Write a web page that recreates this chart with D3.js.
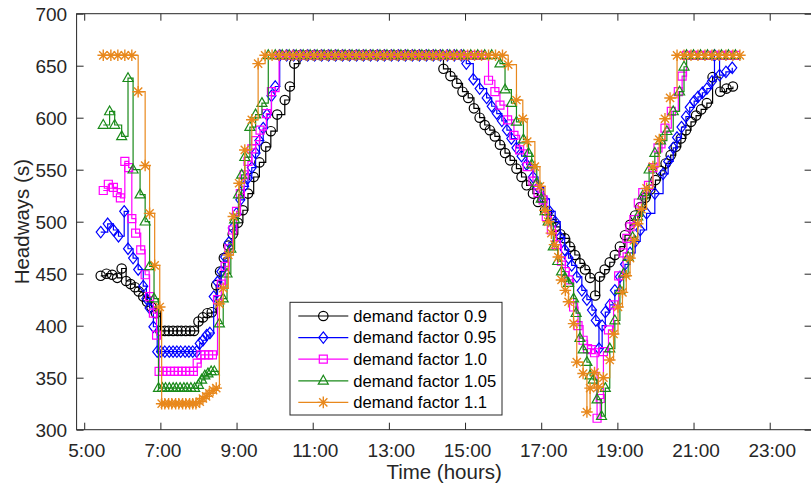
<!DOCTYPE html>
<html><head><meta charset="utf-8">
<script src="https://cdn.jsdelivr.net/npm/d3@7"></script>
<style>
body{margin:0;background:#fff}
svg{display:block}
text{font-family:"Liberation Sans",Arial,Helvetica,sans-serif;fill:#262626}
</style>
</head><body>
<svg id="chart" width="811" height="492"></svg>
<script>
// ---------------- DATA (time in minutes since midnight, headway in seconds) ----------------
const xTickValues = [300, 420, 540, 660, 780, 900, 1020, 1140, 1260, 1380];
const xTickLabels = ["5:00","7:00","9:00","11:00","13:00","15:00","17:00","19:00","21:00","23:00"];
const yTickValues = [300, 350, 400, 450, 500, 550, 600, 650, 700];
const seriesNames = ["demand factor 0.9","demand factor 0.95","demand factor 1.0","demand factor 1.05","demand factor 1.1"];

const df09 = [
[326,448],[335,450],[344,449],[352,446],[359,455],[366,443],[373,440],[380,437],[386,433],[393,428],[399,423],[406,418],[413,412],
[420,395],[427,395],[433,395],[440,395],[447,395],[453,395],[460,395],[467,395],[473,395],
[480,404],[487,408],[494,412],[501,413],[508,439],[514,452],[520,465],[527,477],[534,488],[542,499],[550,511],[558,527],[567,543],[576,557],[586,572],[594,587],[604,603],[616,617],[624,630],[631,652],
[640,660],[651,660],[662,660],[673,660],[684,660],[695,660],[706,660],[717,660],[728,660],[739,660],[750,660],[761,660],[772,660],[783,660],[794,660],[805,660],[816,660],[827,660],[838,660],[849,660],[860,660],
[866,647],[877,640],[887,633],[896,625],[905,619],[914,609],[923,600],[931,593],[939,588],[947,582],[955,574],[963,566],[971,559],[981,551],[989,543],[997,535],[1007,527],[1015,519],[1026,511],[1036,502],[1043,495],[1050,488],[1057,484],[1065,476],[1073,468],[1081,460],[1089,454],[1097,446],[1105,429],
[1112,447],[1120,454],[1128,461],[1136,468],[1144,476],[1152,487],[1160,497],[1168,506],[1176,514],[1184,523],[1192,531],[1200,540],[1208,549],[1216,556],[1224,564],[1232,572],[1240,580],[1248,588],[1256,596],[1264,602],[1272,608],[1281,614],[1290,639],[1302,625],[1312,628],[1322,630]
];

const df095 = [
[326,490],[337,498],[346,492],[354,486],[363,510],[369,474],[377,465],[385,454],[393,438],[398,426],[403,417],[409,399],
[415,375],[421,375],[427,375],[434,375],[440,375],[446,375],[452,375],[459,375],[465,375],[471,375],[477,375],
[482,383],[487,386],[493,391],[498,393],[504,428],[510,442],[516,452],[522,466],[528,480],[534,494],[540,508],[546,521],[552,534],[558,542],[564,552],[570,566],[576,578],[582,590],[588,603],[595,621],[601,630],
[608,660],[619,660],[630,660],[641,660],[652,660],[663,660],[674,660],[685,660],[696,660],[707,660],[718,660],[729,660],[740,660],[751,660],[762,660],[773,660],[784,660],[795,660],[806,660],[817,660],[828,660],[839,660],[850,660],[861,660],[872,660],[883,660],[894,660],
[902,652],[913,637],[923,628],[934,619],[942,611],[950,604],[958,597],[966,588],[973,580],[981,571],[989,563],[997,555],[1007,543],[1015,533],[1024,522],[1033,510],[1042,500],[1050,485],[1057,473],[1063,465],[1068,458],[1076,447],[1084,434],[1092,425],[1100,415],[1106,405],[1111,378],[1116,400],
[1121,413],[1128,420],[1136,434],[1144,447],[1152,459],[1160,470],[1168,481],[1176,492],[1186,508],[1199,527],[1212,546],[1220,558],[1228,571],[1234,581],[1241,591],[1248,601],[1254,610],[1261,616],[1267,620],[1274,624],[1281,628],[1289,635],[1293,660],[1301,641],[1311,644],[1321,648]
];

const df10 = [
[330,530],[338,536],[346,533],[352,528],[357,523],[364,558],[370,552],[375,503],[381,489],[389,473],[396,449],[403,428],[409,412],[414,391],
[418,356],[424,356],[430,356],[436,356],[442,356],[448,356],[454,356],[460,356],[466,356],[472,356],
[478,364],[484,372],[490,372],[496,372],[502,372],
[510,425],[516,440],[522,457],[528,474],[534,492],[540,510],[546,527],[552,545],[558,558],[564,570],[570,578],[577,588],[587,604],[595,625],
[607,660],[618,660],[629,660],[640,660],[651,660],[662,660],[673,660],[684,660],[695,660],[706,660],[717,660],[728,660],[739,660],[750,660],[761,660],[772,660],[783,660],[794,660],[805,660],[816,660],[827,660],[838,660],[849,660],[860,660],[871,660],[882,660],[893,660],[904,660],[915,660],[926,660],
[937,636],[947,625],[955,612],[967,598],[977,583],[986,569],[998,553],[1007,539],[1015,528],[1023,521],[1028,505],[1036,492],[1044,478],[1052,462],[1058,452],[1063,444],[1071,418],[1078,400],[1086,386],[1093,378],[1099,377],[1104,374],[1108,311],[1113,330],[1118,375],[1126,396],[1134,420],[1142,448],[1149,470],[1155,484],[1160,495],[1166,502],[1173,518],[1180,528],[1189,535],[1196,552],[1204,571],[1215,590],[1225,606],[1236,625],[1242,640],
[1249,660],[1260,660],[1271,660],[1282,660],[1293,660],[1304,660],[1315,660],[1326,660]
];

const df105 = [
[330,593],[340,606],[348,593],[359,582],[369,638],[377,550],[388,526],[396,500],[403,457],[410,426],
[417,340],[423,340],[428,340],[434,340],[440,340],[445,340],[451,340],[457,340],[462,340],[468,340],[474,340],
[480,343],[485,348],[490,352],[495,354],[500,356],[505,356],
[513,402],[519,426],[525,450],[531,474],[537,502],[543,526],[548,545],[553,562],[561,591],[570,603],[580,614],
[590,660],[601,660],[612,660],[623,660],[634,660],[645,660],[656,660],[667,660],[678,660],[689,660],[700,660],[711,660],[722,660],[733,660],[744,660],[755,660],[766,660],[777,660],[788,660],[799,660],[810,660],[821,660],[832,660],[843,660],[854,660],[865,660],[876,660],[887,660],[898,660],[909,660],[920,660],[931,660],[942,660],
[955,652],[963,627],[973,614],[981,596],[992,579],[1000,566],[1005,555],[1013,537],[1020,522],[1026,510],[1031,500],[1039,476],[1046,462],[1052,452],[1057,446],[1063,441],[1071,426],[1075,412],[1081,388],[1086,377],[1092,365],[1097,352],[1102,348],[1108,329],[1115,313],[1121,340],[1128,378],[1136,405],[1144,434],[1150,450],[1157,466],[1164,485],[1172,505],[1180,525],[1190,550],[1199,566],[1208,578],[1218,587],[1228,606],[1238,625],[1245,649],
[1249,660],[1260,660],[1271,660],[1282,660],[1293,660],[1304,660],[1315,660],[1326,660]
];

const df11 = [
[330,660],[342,660],[353,660],[364,660],[375,660],[385,625],[396,554],[403,508],[411,458],[419,418],
[422,325],[427,325],[433,325],[438,325],[444,325],[449,325],[455,325],[460,325],[466,325],[471,325],[476,325],
[482,327],[487,330],[492,332],[497,335],[503,338],[508,340],
[513,421],[519,436],[527,468],[535,505],[544,537],[553,569],[564,598],[574,652],
[585,660],[596,660],[607,660],[618,660],[629,660],[640,660],[651,660],[662,660],[673,660],[684,660],[695,660],[706,660],[717,660],[728,660],[739,660],[750,660],[761,660],[772,660],[783,660],[794,660],[805,660],[816,660],[827,660],[838,660],[849,660],[860,660],[871,660],[882,660],[893,660],[904,660],[915,660],[926,660],[937,660],[948,660],[959,660],
[968,651],[981,617],[991,599],[998,577],[1010,553],[1018,534],[1026,511],[1031,500],[1036,489],[1041,478],[1047,466],[1052,444],[1058,434],[1063,423],[1071,402],[1076,365],[1086,354],[1092,317],[1097,340],[1104,355],[1110,341],[1118,350],[1128,367],[1134,392],[1141,418],[1148,432],[1154,448],[1160,465],[1166,482],[1172,498],[1178,512],[1186,532],[1196,553],[1206,579],[1215,599],[1223,619],
[1234,660],[1245,660],[1256,660],[1267,660],[1278,660],[1289,660],[1300,660],[1311,660],[1322,660],[1333,660]
];

const seriesData = [df09, df095, df10, df105, df11];
const seriesColors = ["#000000", "#0000ff", "#ff00ff", "#1a8a1a", "#e8881c"];
const seriesMarkers = ["circle", "diamond", "square", "triangle", "star"];

// ---------------- DRAWING ----------------
const svg = d3.select("#chart");
const L = 76.6, R = 811.6, T = 13.7, B = 429.7;
const x = d3.scaleLinear().domain([288, 1446]).range([L, R]);
const y = d3.scaleLinear().domain([300, 700]).range([B, T]);
const axisColor = "#262626";

const markerPaths = {
  circle: "M4.7,0A4.7,4.7 0 1,1 -4.7,0A4.7,4.7 0 1,1 4.7,0Z",
  diamond: "M0,-5.7L4.5,0L0,5.7L-4.5,0Z",
  square: "M-4,-4H4V4H-4Z",
  triangle: "M0,-5.5L5,3.3H-5Z",
  star: "M0,-5.8V5.8M-5.8,0H5.8M-4.1,-4.1L4.1,4.1M-4.1,4.1L4.1,-4.1"
};

// series
const line = d3.line().x(d => x(d[0])).y(d => y(d[1])).curve(d3.curveStepAfter);
seriesData.forEach((data, i) => {
  const g = svg.append("g");
  g.append("path").datum(data)
    .attr("d", line)
    .attr("fill", "none")
    .attr("stroke", seriesColors[i])
    .attr("stroke-width", 1.2);
  g.selectAll("path.mk").data(data).join("path")
    .attr("class", "mk")
    .attr("transform", d => `translate(${x(d[0])},${y(d[1])})`)
    .attr("d", markerPaths[seriesMarkers[i]])
    .attr("fill", "none")
    .attr("stroke", seriesColors[i])
    .attr("stroke-width", i === 4 ? 1.4 : 1.2);
});

// axes
const tickLen = 7;
const fmt = d => xTickLabels[xTickValues.indexOf(d)];
const gx = svg.append("g").attr("transform", `translate(0,${B})`)
  .call(d3.axisBottom(x).tickValues(xTickValues).tickFormat(fmt).tickSizeInner(-tickLen).tickSizeOuter(0));
gx.selectAll("text").attr("y", 13.6).attr("dy", "0.71em").attr("dx", "2px").style("font-size", "19px").style("fill", axisColor);
const gxt = svg.append("g").attr("transform", `translate(0,${T})`)
  .call(d3.axisTop(x).tickValues(xTickValues).tickFormat("").tickSizeInner(-tickLen).tickSizeOuter(0));
const gy = svg.append("g").attr("transform", `translate(${L},0)`)
  .call(d3.axisLeft(y).tickValues(yTickValues).tickFormat(d3.format("d")).tickSizeInner(-tickLen).tickSizeOuter(0));
gy.selectAll("text").attr("x", -9.5).attr("dy", "0.34em").style("font-size", "19px").style("fill", axisColor);
const gyr = svg.append("g").attr("transform", `translate(${R},0)`)
  .call(d3.axisRight(y).tickValues(yTickValues).tickFormat("").tickSizeInner(-tickLen).tickSizeOuter(0));
[gx, gxt, gy, gyr].forEach(g => {
  g.select(".domain").remove();
  g.selectAll("line").attr("stroke", axisColor).attr("stroke-width", 1);
  g.selectAll("text").attr("font-family", null);
});
svg.append("rect").attr("x", L).attr("y", T).attr("width", R - L).attr("height", B - T)
  .attr("fill", "none").attr("stroke", axisColor).attr("stroke-width", 1);

// axis labels
svg.append("text").attr("x", (L + R) / 2).attr("y", 479).attr("text-anchor", "middle")
  .style("font-size", "20.5px").text("Time (hours)");
svg.append("text").attr("transform", `translate(29,${(T + B) / 2}) rotate(-90)`).attr("text-anchor", "middle")
  .style("font-size", "20.5px").text("Headways (s)");

// legend
const lg = svg.append("g");
lg.append("rect").attr("x", 290).attr("y", 302.3).attr("width", 212).attr("height", 112.7)
  .attr("fill", "#fff").attr("stroke", axisColor).attr("stroke-width", 1);
seriesNames.forEach((name, i) => {
  const yy = 316 + i * 21.6;
  lg.append("line").attr("x1", 298.3).attr("x2", 348.3).attr("y1", yy).attr("y2", yy)
    .attr("stroke", seriesColors[i]).attr("stroke-width", 1.2);
  lg.append("path").attr("transform", `translate(323.3,${yy})`).attr("d", markerPaths[seriesMarkers[i]])
    .attr("fill", "none").attr("stroke", seriesColors[i]).attr("stroke-width", i === 4 ? 1.4 : 1.2);
  lg.append("text").attr("x", 353.3).attr("y", yy).attr("dy", "0.35em")
    .style("font-size", "16.6px").style("fill", "#000").text(name);
});
</script>
</body></html>
